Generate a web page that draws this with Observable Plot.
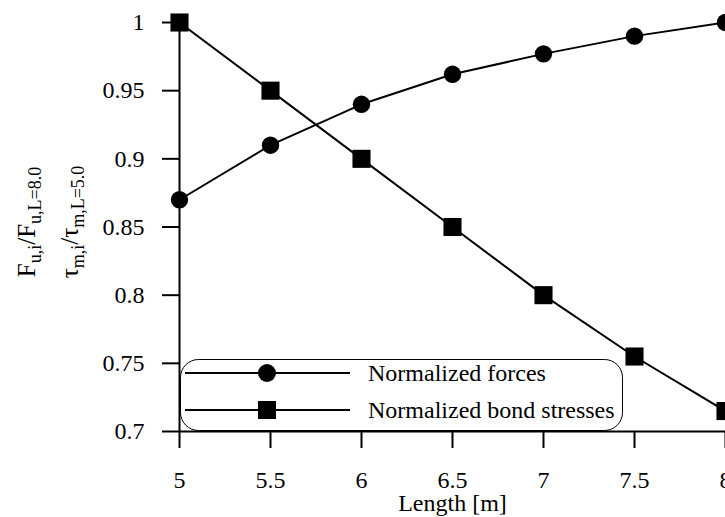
<!DOCTYPE html>
<html>
<head>
<meta charset="utf-8">
<script src="https://cdn.jsdelivr.net/npm/d3@7"></script>
<script src="https://cdn.jsdelivr.net/npm/@observablehq/plot@0.6"></script>
<style>
  html, body { margin: 0; padding: 0; background: white; overflow: hidden; }
</style>
</head>
<body>
<div id="chart"></div>
<script>
const lengths = [5, 5.5, 6, 6.5, 7, 7.5, 8];
const forces = [0.87, 0.91, 0.94, 0.962, 0.977, 0.99, 1.0];
const bondStresses = [1.0, 0.95, 0.9, 0.85, 0.8, 0.755, 0.715];
const xTicks = [5, 5.5, 6, 6.5, 7, 7.5, 8];
const yTicks = [0.7, 0.75, 0.8, 0.85, 0.9, 0.95, 1];
const seriesNames = ["Normalized forces", "Normalized bond stresses"];

const forceData = lengths.map((x, i) => ({x, y: forces[i]}));
const bondData = lengths.map((x, i) => ({x, y: bondStresses[i]}));

const svg = Plot.plot({
  width: 725,
  height: 517,
  marginLeft: 179,
  marginRight: 0,
  marginTop: 22,
  marginBottom: 86,
  style: {fontFamily: "Liberation Serif", fontSize: "24px", color: "black", background: "white", overflow: "visible"},
  x: {domain: [5, 8]},
  y: {domain: [0.7, 1]},
  marks: [
    Plot.ruleX([5], {stroke: "black", strokeWidth: 2}),
    Plot.ruleY([0.7], {stroke: "black", strokeWidth: 2}),
    Plot.axisY({ticks: yTicks, tickFormat: d => String(d), tickSize: 17, tickPadding: 18, strokeWidth: 2, label: null, fontSize: 24}),
    Plot.axisX({ticks: xTicks, tickFormat: d => String(d), tickSize: 17, tickPadding: 22, strokeWidth: 2, label: "Length [m]", labelAnchor: "center", labelOffset: 79, labelArrow: "none", fontSize: 24}),
    Plot.line(forceData, {x: "x", y: "y", stroke: "black", strokeWidth: 2}),
    Plot.dot(forceData, {x: "x", y: "y", symbol: "circle", r: 8.7, fill: "black", stroke: "none"}),
    Plot.line(bondData, {x: "x", y: "y", stroke: "black", strokeWidth: 2}),
    Plot.dot(bondData, {x: "x", y: "y", symbol: "square", r: 10.2, fill: "black", stroke: "none"})
  ]
});
document.getElementById("chart").appendChild(svg);

const s = d3.select(svg);

// Y-axis label with subscripts (two lines)
const yl = s.append("g").attr("font-family", "Liberation Serif").attr("fill", "black");
function addLabel(x, parts) {
  const t = yl.append("text")
    .attr("transform", `translate(${x},222) rotate(-90)`)
    .attr("text-anchor", "middle")
    .attr("fill", "#000")
    .attr("font-size", 25);
  let shift = 0;
  for (const [txt, sub] of parts) {
    const ts = t.append("tspan").text(txt);
    const target = sub ? 6 : 0;
    if (target !== shift) ts.attr("dy", target - shift);
    shift = target;
    if (sub) ts.attr("font-size", 18);
  }
}
addLabel(35, [["F", false], ["u,i", true], ["/F", false], ["u,L=8.0", true]]);
addLabel(78, [["τ", false], ["m,i", true], ["/τ", false], ["m,L=5.0", true]]);

// Legend
const lg = s.append("g").attr("font-family", "Liberation Serif").attr("text-anchor", "start");
lg.append("rect").attr("x", 180.5).attr("y", 359.5).attr("width", 442).attr("height", 71)
  .attr("rx", 18).attr("ry", 18).attr("fill", "none").attr("stroke", "black").attr("stroke-width", 1);
const rows = [{y: 373, sym: "circle"}, {y: 410, sym: "square"}];
rows.forEach((r, i) => {
  lg.append("line").attr("x1", 185).attr("x2", 350).attr("y1", r.y).attr("y2", r.y)
    .attr("stroke", "black").attr("stroke-width", 2);
  if (r.sym === "circle") {
    lg.append("circle").attr("cx", 267).attr("cy", r.y).attr("r", 9).attr("fill", "black");
  } else {
    lg.append("rect").attr("x", 258).attr("y", r.y - 9).attr("width", 18).attr("height", 18).attr("fill", "black");
  }
  lg.append("text").attr("x", 368).attr("y", r.y + 8).attr("font-size", 24).attr("fill", "black")
    .attr("text-anchor", "start").text(seriesNames[i]);
});
</script>
</body>
</html>
